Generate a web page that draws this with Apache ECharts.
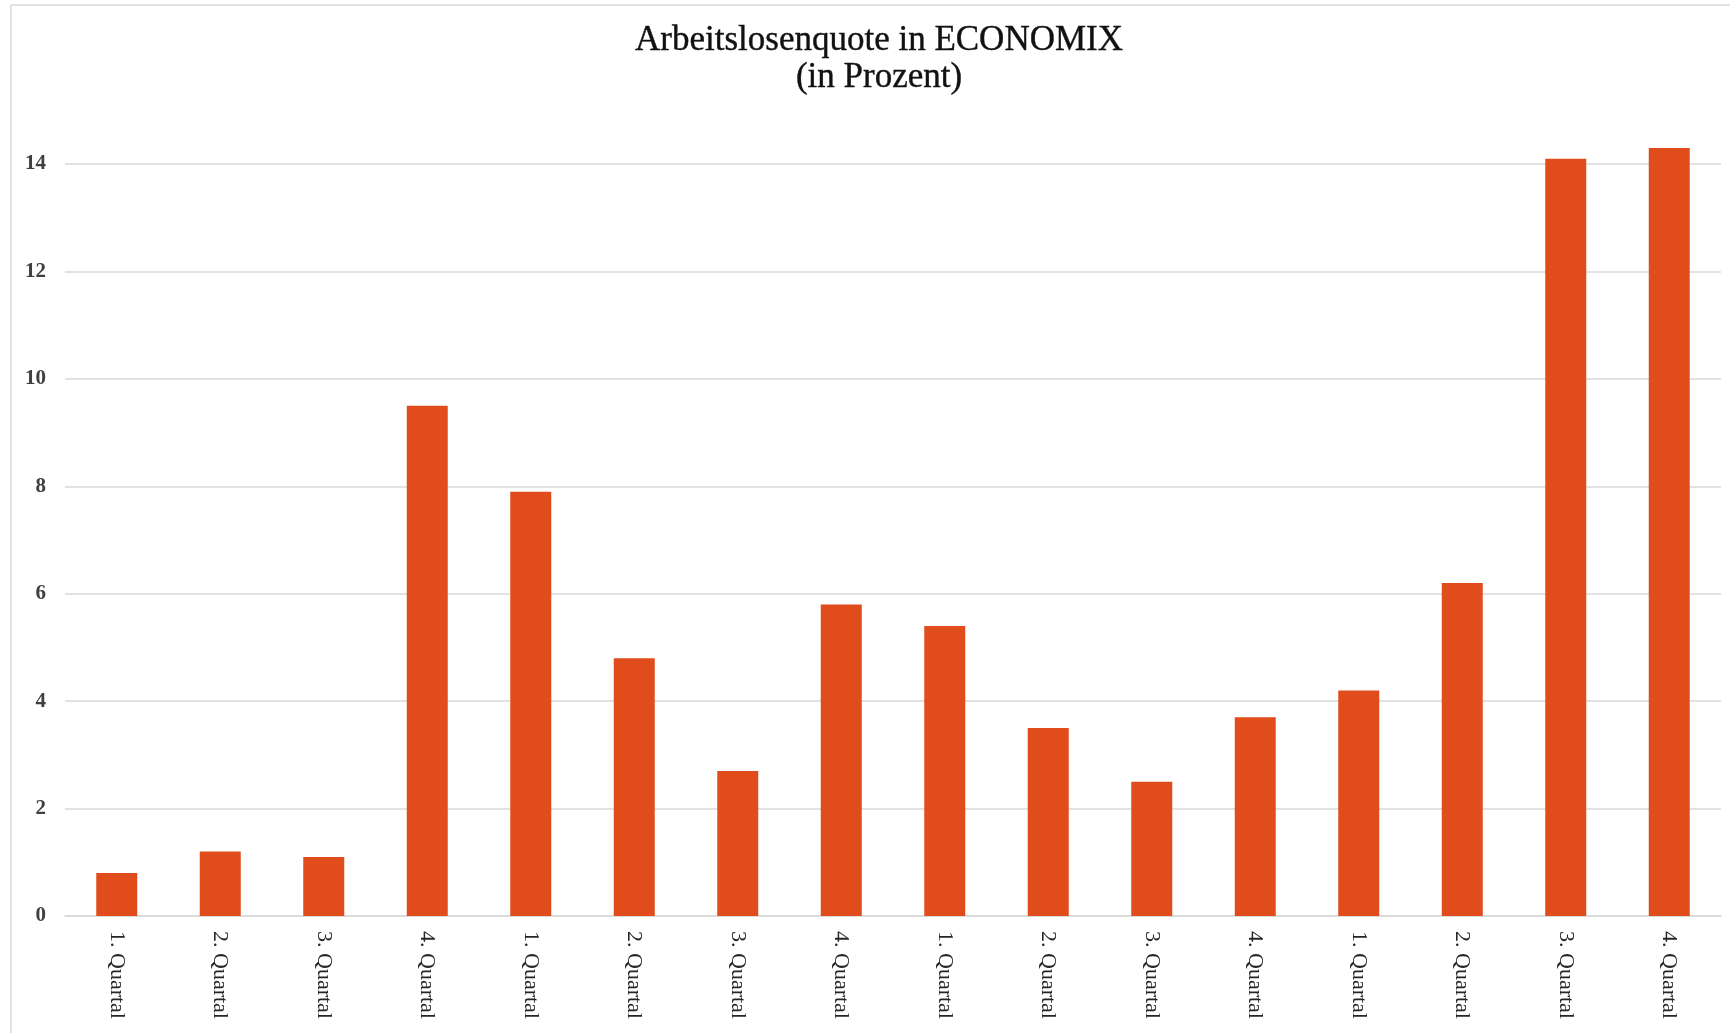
<!DOCTYPE html>
<html>
<head>
<meta charset="utf-8">
<title>Arbeitslosenquote in ECONOMIX</title>
<script src="https://cdn.jsdelivr.net/npm/echarts@6/dist/echarts.min.js"></script>
<style>
    html, body { margin: 0; padding: 0; background: #fff; }
    #chartDiv { width: 1730px; height: 1033px; }
</style>
</head>
<body>
<div id="chartDiv"></div>
<script>
// Daten
var categories = ['1. Quartal', '2. Quartal', '3. Quartal', '4. Quartal',
    '1. Quartal', '2. Quartal', '3. Quartal', '4. Quartal',
    '1. Quartal', '2. Quartal', '3. Quartal', '4. Quartal',
    '1. Quartal', '2. Quartal', '3. Quartal', '4. Quartal'];
var quote = [0.8, 1.2, 1.1, 9.5, 7.9, 4.8, 2.7, 5.8, 5.4, 3.5, 2.5, 3.7, 4.2, 6.2, 14.1, 14.3];
var yTicks = [0, 2, 4, 6, 8, 10, 12, 14];

var serif = '"Liberation Serif", "DejaVu Serif", serif';

var option = {
    animation: false,
    backgroundColor: '#fff',
    title: {
        text: 'Arbeitslosenquote in ECONOMIX\n(in Prozent)',
        left: 874,
        top: 17,
        textAlign: 'center',
        textStyle: {
            fontFamily: serif,
            fontSize: 35,
            fontWeight: 'normal',
            color: '#111',
            lineHeight: 37,
            textBorderColor: '#111',
            textBorderWidth: 0.4
        }
    },
    graphic: [{
        type: 'rect',
        shape: { x: 11, y: 5, width: 1730, height: 1040 },
        style: { fill: 'none', stroke: '#d9d9d9', lineWidth: 1.5 },
        silent: true
    }],
    grid: {
        left: 65,
        right: 9,
        top: 164,
        bottom: 117,
        containLabel: false
    },
    xAxis: {
        type: 'category',
        data: categories,
        axisTick: { show: false },
        axisLine: { lineStyle: { color: '#d9d9d9', width: 1.5 } },
        axisLabel: {
            interval: 0,
            rotate: -90,
            margin: 15,
            fontFamily: serif,
            fontSize: 22,
            color: '#262626'
        }
    },
    yAxis: {
        type: 'value',
        min: yTicks[0],
        max: yTicks[yTicks.length - 1],
        interval: 2,
        axisLine: { show: false },
        axisTick: { show: false },
        splitLine: { lineStyle: { color: '#d9d9d9', width: 1.5 } },
        axisLabel: {
            margin: 19,
            fontFamily: serif,
            fontSize: 21,
            fontWeight: 'bold',
            color: '#404040'
        }
    },
    series: [{
        type: 'bar',
        data: quote,
        barWidth: 41,
        clip: false,
        itemStyle: { color: '#E04C1C' }
    }]
};

var myChart = echarts.init(document.getElementById('chartDiv'));
myChart.setOption(option);
</script>
</body>
</html>
